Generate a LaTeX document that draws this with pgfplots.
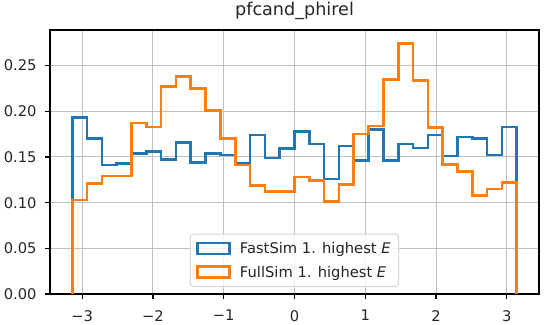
\documentclass[border=0pt]{standalone}
\usepackage{pgfplots}
\pgfplotsset{compat=1.18}
\usepackage{pgfplotstable}
\usepackage{fontspec}
\setmainfont{DejaVu Sans}
\definecolor{tabblue}{HTML}{1F77B4}
\definecolor{taborange}{HTML}{FF7F0E}
\definecolor{gridgray}{HTML}{C0C0C0}
\definecolor{legedge}{HTML}{D5D5D5}

\pgfplotstableread{
x fast full
-3.14159 0 0
-3.14159 0.193 0.103
-2.93215 0.170 0.121
-2.72271 0.141 0.129
-2.51327 0.143 0.129
-2.30383 0.154 0.187
-2.09440 0.156 0.183
-1.88496 0.147 0.227
-1.67552 0.166 0.238
-1.46608 0.144 0.225
-1.25664 0.154 0.201
-1.04720 0.152 0.170
-0.83776 0.143 0.141
-0.62832 0.174 0.119
-0.41888 0.149 0.112
-0.20944 0.159 0.112
0.00000 0.178 0.128
0.20944 0.164 0.124
0.41888 0.126 0.101
0.62832 0.162 0.120
0.83776 0.146 0.175
1.04720 0.180 0.184
1.25664 0.146 0.235
1.46608 0.164 0.274
1.67552 0.160 0.234
1.88496 0.174 0.182
2.09440 0.151 0.142
2.30383 0.172 0.134
2.51327 0.170 0.108
2.72271 0.152 0.115
2.93215 0.183 0.122
3.14159 0.183 0.122
3.14159 0 0
}\histdata

\begin{document}
\begin{tikzpicture}
\useasboundingbox (-50bp,-31bp) rectangle (499bp,294bp);
\begin{axis}[
  at={(0,0)}, anchor=south west,
  width=489bp, height=264bp, scale only axis,
  xmin=-3.45575, xmax=3.45575, ymin=0, ymax=0.289,
  xtick={-3,-2,-1,0,1,2,3},
  xticklabels={−3,−2,−1,0,1,2,3},
  ytick={0,0.05,0.10,0.15,0.20,0.25},
  /pgf/number format/fixed,
  /pgf/number format/fixed zerofill,
  /pgf/number format/precision=2,
  /pgf/number format/assume math mode=true,
  tick label style={font=\fontsize{14.7bp}{17bp}\selectfont, inner sep=0pt, text=black!85},
  yticklabel style={anchor=east, xshift=-8.3bp},
  xticklabel style={anchor=north, yshift=-11bp},
  xtick pos=bottom, ytick pos=left,
  tick align=outside,
  major tick length=5bp,
  tick style={black, line width=1.1bp},
  axis line style={black, line width=1.1bp},
  grid=major,
  major grid style={gridgray, line width=1bp},
  title={pfcand\_phirel},
  title style={font=\fontsize{17.6bp}{20bp}\selectfont, text=black!85, anchor=base, at={(0.5,1)}, yshift=9bp},
  legend style={at={(0.5,0.0265)}, anchor=south, draw=legedge, line width=1bp,
    rounded corners=3bp, fill=white, fill opacity=0.8, text opacity=1,
    font=\fontsize{14.7bp}{17bp}\selectfont, inner xsep=5bp, inner ysep=5bp,
    row sep=5bp, nodes={inner sep=3bp, text=black!85}, cells={anchor=west}},
  legend image code/.code={\draw[#1, sharp corners, line join=miter, line width=2.6bp] (0bp,-5.5bp) rectangle (32bp,5.5bp); \path (-1bp,0bp) (38bp,0bp);},
]
\addplot[const plot, tabblue, line width=2.6bp, line join=miter] table[x=x, y=fast] {\histdata};
\addlegendentry{FastSim 1. highest \textit{E}}
\addplot[const plot, taborange, line width=2.6bp, line join=miter] table[x=x, y=full] {\histdata};
\addlegendentry{FullSim 1. highest \textit{E}}
\end{axis}
\end{tikzpicture}
\end{document}
